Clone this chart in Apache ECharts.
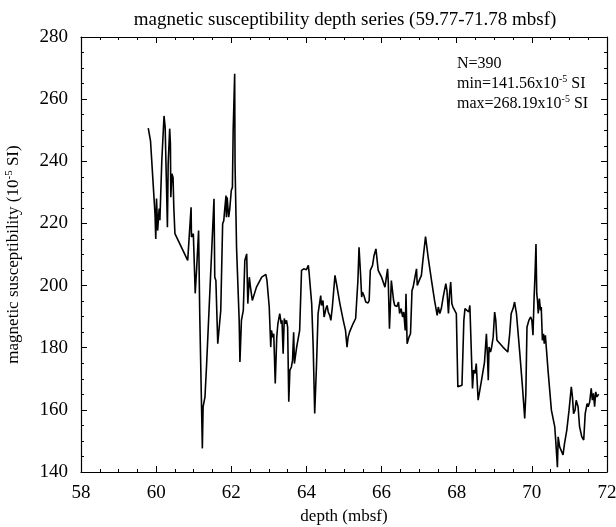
<!DOCTYPE html>
<html><head><meta charset="utf-8">
<script src="https://cdn.jsdelivr.net/npm/echarts@6/dist/echarts.min.js"></script>
<style>html,body{margin:0;padding:0;background:#fff}#c{width:616px;height:527px}</style>
</head><body><div id="c"></div>
<script>
const depths = [59.79,59.85,59.97,59.99,60.01,60.04,60.08,60.10,60.15,60.21,60.24,60.26,60.30,60.32,60.36,60.38,60.39,60.42,60.45,60.47,60.50,60.84,60.93,60.94,60.99,61.04,61.08,61.13,61.16,61.23,61.25,61.30,61.34,61.54,61.56,61.59,61.64,61.72,61.77,61.80,61.83,61.86,61.87,61.89,61.93,61.96,62.00,62.03,62.05,62.09,62.10,62.14,62.21,62.23,62.27,62.32,62.36,62.41,62.44,62.48,62.51,62.56,62.67,62.81,62.92,62.95,63.01,63.05,63.07,63.10,63.13,63.17,63.21,63.24,63.29,63.33,63.35,63.38,63.41,63.44,63.47,63.50,63.53,63.56,63.60,63.63,63.66,63.68,63.74,63.82,63.87,63.93,64.00,64.05,64.07,64.14,64.18,64.22,64.27,64.31,64.38,64.40,64.44,64.47,64.52,64.55,64.58,64.62,64.65,64.69,64.76,64.80,64.89,64.98,65.04,65.08,65.11,65.15,65.24,65.31,65.35,65.37,65.40,65.44,65.47,65.49,65.53,65.58,65.64,65.67,65.70,65.76,65.80,65.85,65.88,65.91,66.00,66.09,66.13,66.16,66.18,66.21,66.24,66.26,66.29,66.32,66.35,66.41,66.45,66.48,66.52,66.56,66.59,66.63,66.65,66.68,66.73,66.77,66.81,66.84,66.88,66.93,66.95,67.00,67.06,67.10,67.17,67.24,67.33,67.41,67.48,67.51,67.55,67.59,67.64,67.71,67.74,67.78,67.81,67.84,67.87,67.90,67.95,67.99,68.03,68.08,68.14,68.19,68.22,68.27,68.32,68.35,68.38,68.42,68.45,68.49,68.52,68.57,68.66,68.74,68.79,68.82,68.84,68.86,68.90,68.93,68.97,69.01,69.04,69.07,69.23,69.36,69.41,69.45,69.50,69.54,69.59,69.68,69.75,69.81,69.84,69.87,69.92,69.97,70.00,70.03,70.06,70.08,70.11,70.13,70.15,70.17,70.20,70.23,70.25,70.28,70.31,70.33,70.36,70.39,70.43,70.52,70.61,70.64,70.68,70.70,70.74,70.78,70.83,70.87,70.93,70.99,71.05,71.08,71.11,71.15,71.18,71.23,71.27,71.33,71.38,71.42,71.47,71.50,71.54,71.58,71.61,71.64,71.67,71.70,71.73,71.78];
const susceptibility = [250.7,246.6,223.0,215.0,228.0,217.7,224.8,221.0,240.0,254.6,250.9,240.2,218.8,239.0,250.5,245.6,228.4,236.0,234.8,225.2,216.7,208.1,225.2,215.6,216.7,197.5,205.9,217.7,191.0,147.6,161.0,164.2,173.8,227.9,202.7,201.6,181.3,192.0,219.9,220.9,225.2,229.0,222.0,228.4,222.0,224.7,230.6,231.6,249.8,268.19,239.2,212.3,188.8,175.4,188.8,192.0,208.1,210.2,194.2,202.7,199.5,195.2,199.5,202.7,203.6,201.6,193.1,180.2,185.6,183.4,184.5,168.5,183.4,187.7,191.0,187.7,188.8,178.1,189.4,187.7,188.8,186.6,162.6,172.8,173.8,176.0,185.0,174.9,180.2,185.6,204.9,205.4,205.1,206.5,204.3,194.2,180.2,158.8,174.9,191.0,196.8,193.6,195.2,189.9,192.6,193.6,191.5,190.4,188.8,193.1,203.3,200.6,194.2,188.8,185.6,180.2,183.4,185.1,187.7,189.4,189.9,201.6,212.3,203.8,196.3,197.9,196.8,194.7,194.4,195.2,204.9,206.5,209.7,211.8,211.3,204.9,202.7,199.5,199.0,205.4,200.6,186.1,195.2,201.6,202.2,195.2,193.6,193.3,194.7,191.0,192.6,189.9,191.5,185.6,197.4,181.3,183.4,184.5,198.4,199.5,199.0,205.4,200.0,201.6,203.3,208.1,215.8,209.1,201.6,195.2,190.4,193.1,191.0,192.6,196.3,200.6,198.4,191.0,197.4,201.1,194.2,193.1,193.3,191.0,167.4,167.6,167.9,188.8,192.6,192.0,191.5,193.6,194.2,166.9,172.8,171.7,174.9,163.1,169.5,175.4,184.5,177.0,169.5,180.2,178.6,180.2,183.4,191.5,188.8,182.4,180.2,178.6,184.5,191.0,192.6,194.7,191.0,178.1,167.4,157.2,165.3,186.6,188.8,189.9,188.8,184.0,196.3,202.2,213.4,197.4,195.2,191.0,195.8,192.0,193.1,182.4,184.5,181.3,184.0,179.2,172.8,159.9,154.5,149.2,141.56,151.3,148.1,148.7,145.5,149.2,153.5,159.9,167.4,164.2,158.8,159.9,163.1,161.0,154.5,151.3,150.3,158.8,162.0,161.0,162.6,166.9,163.1,165.3,161.0,165.8,164.2,165.0];
const titleText = 'magnetic susceptibility depth series (59.77-71.78 mbsf)';
const xName = 'depth (mbsf)';
const statN = 'N=390';
const statMin = '141.56';
const statMax = '268.19';

const serif = '"Liberation Serif", "DejaVu Serif", serif';
const data = depths.map((d, i) => [d, susceptibility[i]]);
const chart = echarts.init(document.getElementById('c'));
const axisCommon = {
  axisLine: {lineStyle: {color: '#000', width: 1.2}},
  axisTick: {inside: true, length: 6, lineStyle: {color: '#000', width: 1}},
  minorTick: {show: true, splitNumber: 4, length: 3, lineStyle: {color: '#000', width: 1}},
  splitLine: {show: false},
  minorSplitLine: {show: false}
};
const supRich = (size) => ({
  a: {fontFamily: serif, fontSize: size, color: '#000'},
  s: {fontFamily: serif, fontSize: Math.round(size * 0.62), color: '#000', padding: [0, 0, Math.round(size * 0.55), 0]}
});
chart.setOption({
  backgroundColor: '#fff',
  animation: false,
  title: {text: titleText, left: 340, top: 6, textAlign: 'center',
    textStyle: {fontFamily: serif, fontSize: 19, fontWeight: 'normal', color: '#000'}},
  grid: {left: 81, right: 9, top: 37, bottom: 55, containLabel: false, outerBoundsMode: 'none'},
  xAxis: [
    Object.assign({type: 'value', min: 58, max: 72, interval: 2, position: 'bottom',
      name: xName, nameLocation: 'middle', nameGap: 36,
      nameTextStyle: {fontFamily: serif, fontSize: 17, color: '#000'},
      axisLabel: {fontFamily: serif, fontSize: 19, color: '#000', margin: 12}}, axisCommon),
    Object.assign({type: 'value', min: 58, max: 72, interval: 2, position: 'top',
      axisLabel: {show: false}}, axisCommon)
  ],
  yAxis: [
    Object.assign({type: 'value', min: 140, max: 280, interval: 20, position: 'left',
      name: '{a|magnetic susceptibility (10}{s|-5}{a| SI)}', nameLocation: 'middle', nameGap: 57,
      nameTextStyle: {rich: supRich(17)},
      axisLabel: {fontFamily: serif, fontSize: 19, color: '#000', margin: 13}}, axisCommon),
    Object.assign({type: 'value', min: 140, max: 280, interval: 20, position: 'right',
      axisLabel: {show: false}}, axisCommon)
  ],
  graphic: [
    {type: 'text', left: 457, top: 56, style: {text: statN, font: '16px ' + serif, fill: '#000'}},
    {type: 'text', left: 457, top: 74, style: {
      text: '{a|min=' + statMin + 'x10}{s|-5}{a| SI}', rich: supRich(16)}},
    {type: 'text', left: 457, top: 94, style: {
      text: '{a|max=' + statMax + 'x10}{s|-5}{a| SI}', rich: supRich(16)}}
  ],
  series: [{type: 'line', data: data, showSymbol: false, symbol: 'none',
    lineStyle: {color: '#000', width: 1.6}, xAxisIndex: 0, yAxisIndex: 0}]
});
</script></body></html>
